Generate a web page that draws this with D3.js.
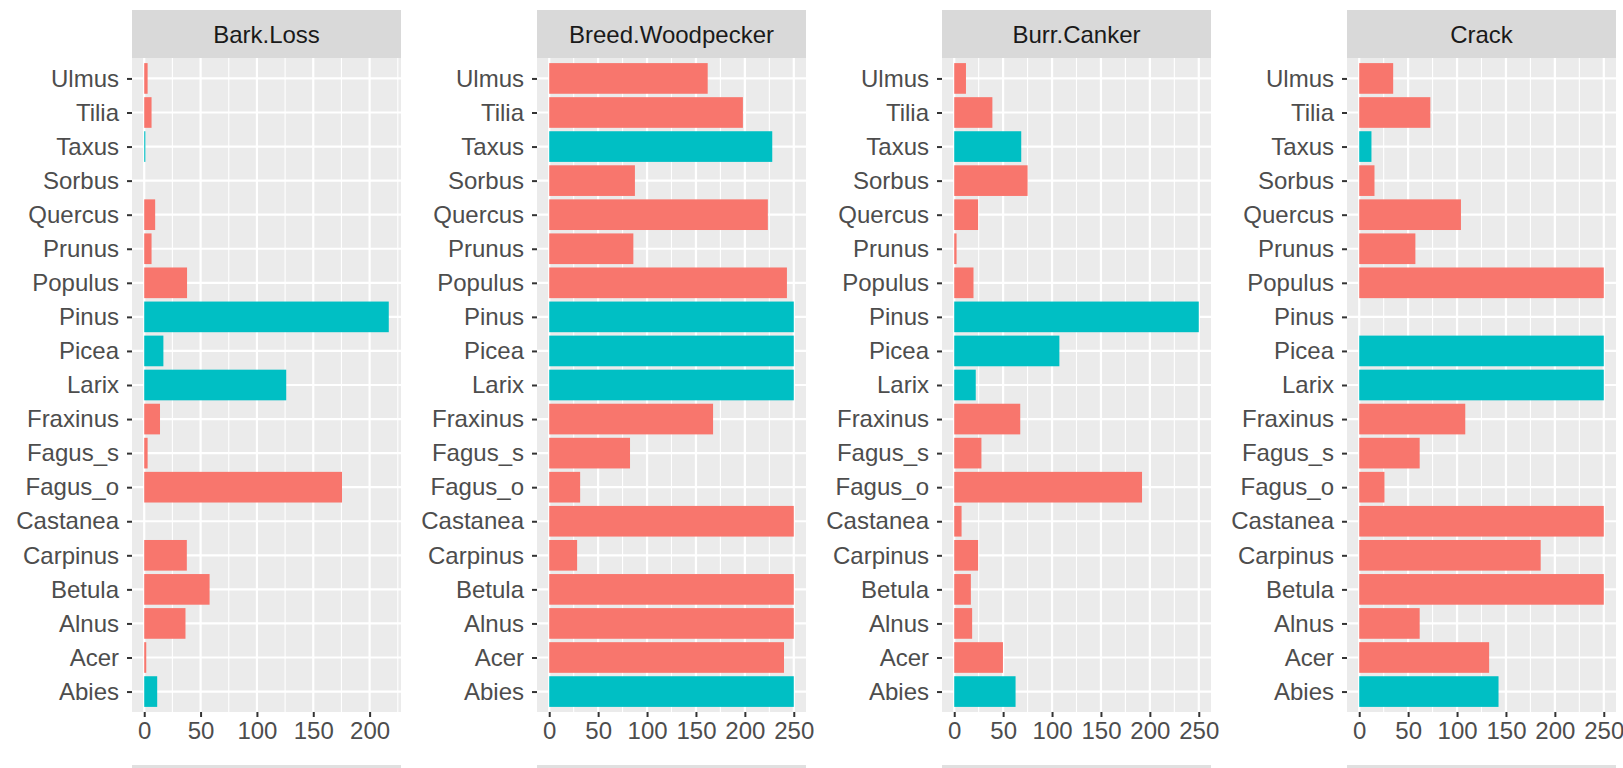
<!DOCTYPE html>
<html>
<head>
<meta charset="utf-8">
<script src="https://cdn.jsdelivr.net/npm/d3@7"></script>
<style>
  html, body { margin: 0; padding: 0; background: #ffffff; }
  svg { display: block; }
  text { font-family: "Liberation Sans", Arial, sans-serif; }
</style>
</head>
<body>
<svg id="chart" width="1623" height="768"></svg>
<script>
// ---------- data ----------
const categories = ["Abies","Acer","Alnus","Betula","Carpinus","Castanea","Fagus_o","Fagus_s","Fraxinus","Larix","Picea","Pinus","Populus","Prunus","Quercus","Sorbus","Taxus","Tilia","Ulmus"];
const conifers = ["Abies","Larix","Picea","Pinus","Taxus"];
const facets = ["Bark.Loss","Breed.Woodpecker","Burr.Canker","Crack"];

const barkLoss        = [11.5, 1.8, 36.6, 58, 37.8, 0, 175.5, 3, 14, 126, 17, 217, 38, 6.5, 9.7, 0, 1, 6.5, 3];
const breedWoodpecker = [250, 240, 250, 250, 28.5, 250, 31.6, 82.6, 167.5, 250, 250, 250, 243, 86, 223.5, 87.6, 228, 198, 162];
const burrCanker      = [62.7, 49.8, 18.3, 17, 24.4, 7.5, 192, 27.8, 67.5, 22, 107.5, 250, 19.7, 2.4, 24.4, 75, 68.5, 39, 12];
const crack           = [142.4, 132.8, 61.8, 250, 185.5, 250, 25.8, 61.8, 108.4, 250, 250, null, 250, 57.4, 104, 15.6, 12.5, 72.7, 34.7];

const seriesValues = [barkLoss, breedWoodpecker, burrCanker, crack];
const xTicks = [[0, 50, 100, 150, 200], [0, 50, 100, 150, 200, 250], [0, 50, 100, 150, 200, 250], [0, 50, 100, 150, 200, 250]];
const xMinor = [[25, 75, 125, 175, 225], [25, 75, 125, 175, 225], [25, 75, 125, 175, 225], [25, 75, 125, 175, 225]];

// ---------- layout ----------
const svg = d3.select("#chart");
const panelW = 269;
const panelLefts = [132, 537, 942, 1347];
const stripTop = 10, stripH = 48;
const panelTop = stripTop + stripH, panelBottom = 712;
const colorConifer = "#00BFC4", colorBroad = "#F8766D";

const y = d3.scalePoint()
  .domain(categories.slice().reverse())
  .range([panelTop, panelBottom])
  .padding(0.6);
const barH = y.step() * 0.9;

facets.forEach((name, i) => {
  const x0 = panelLefts[i];
  const vals = seriesValues[i];
  const maxV = d3.max(vals);
  const pad = maxV * 0.05;
  const x = d3.scaleLinear().domain([-pad, maxV + pad]).range([x0, x0 + panelW]);

  const g = svg.append("g");

  // strip
  g.append("rect").attr("x", x0).attr("y", stripTop).attr("width", panelW).attr("height", stripH).attr("fill", "#D9D9D9");
  g.append("text").attr("x", x0 + panelW / 2).attr("y", stripTop + stripH / 2)
    .attr("text-anchor", "middle").attr("dominant-baseline", "central")
    .attr("font-size", 24).attr("fill", "#1A1A1A").text(name);

  // panel background
  g.append("rect").attr("x", x0).attr("y", panelTop).attr("width", panelW).attr("height", panelBottom - panelTop).attr("fill", "#EBEBEB");

  // minor grid
  g.selectAll(".minor").data(xMinor[i].filter(v => v < maxV + pad)).enter().append("line")
    .attr("x1", d => x(d)).attr("x2", d => x(d)).attr("y1", panelTop).attr("y2", panelBottom)
    .attr("stroke", "#ffffff").attr("stroke-width", 1.1);
  // major grid
  g.selectAll(".majorx").data(xTicks[i]).enter().append("line")
    .attr("x1", d => x(d)).attr("x2", d => x(d)).attr("y1", panelTop).attr("y2", panelBottom)
    .attr("stroke", "#ffffff").attr("stroke-width", 2.2);
  g.selectAll(".majory").data(categories).enter().append("line")
    .attr("x1", x0).attr("x2", x0 + panelW).attr("y1", d => y(d)).attr("y2", d => y(d))
    .attr("stroke", "#ffffff").attr("stroke-width", 2.2);

  // bars
  const rows = categories.map((c, k) => ({ c, v: vals[k] })).filter(d => d.v !== null);
  g.selectAll(".bar").data(rows).enter().append("rect")
    .attr("x", x(0))
    .attr("y", d => y(d.c) - barH / 2)
    .attr("width", d => Math.max(0, x(d.v) - x(0)))
    .attr("height", barH)
    .attr("fill", d => conifers.includes(d.c) ? colorConifer : colorBroad);

  // y axis
  const yAxis = d3.axisLeft(y).tickSize(5).tickPadding(8);
  const ya = g.append("g").attr("transform", `translate(${x0},0)`).call(yAxis);
  ya.select(".domain").remove();
  ya.selectAll(".tick line").attr("stroke", "#333333").attr("stroke-width", 2);
  ya.selectAll(".tick text").attr("font-size", 24).attr("fill", "#4D4D4D")
    .attr("font-family", "'Liberation Sans', Arial, sans-serif");

  // x axis
  const xAxis = d3.axisBottom(x).tickValues(xTicks[i]).tickFormat(d3.format("d")).tickSize(5).tickPadding(5);
  const xa = g.append("g").attr("transform", `translate(0,${panelBottom})`).call(xAxis);
  xa.select(".domain").remove();
  xa.selectAll(".tick line").attr("stroke", "#333333").attr("stroke-width", 2);
  xa.selectAll(".tick text").attr("font-size", 24).attr("fill", "#4D4D4D")
    .attr("font-family", "'Liberation Sans', Arial, sans-serif");

  // start of the next row's strip (cut off at bottom)
  g.append("rect").attr("x", x0).attr("y", 765).attr("width", panelW).attr("height", 10).attr("fill", "#E0E0E0");
});
</script>
</body>
</html>
